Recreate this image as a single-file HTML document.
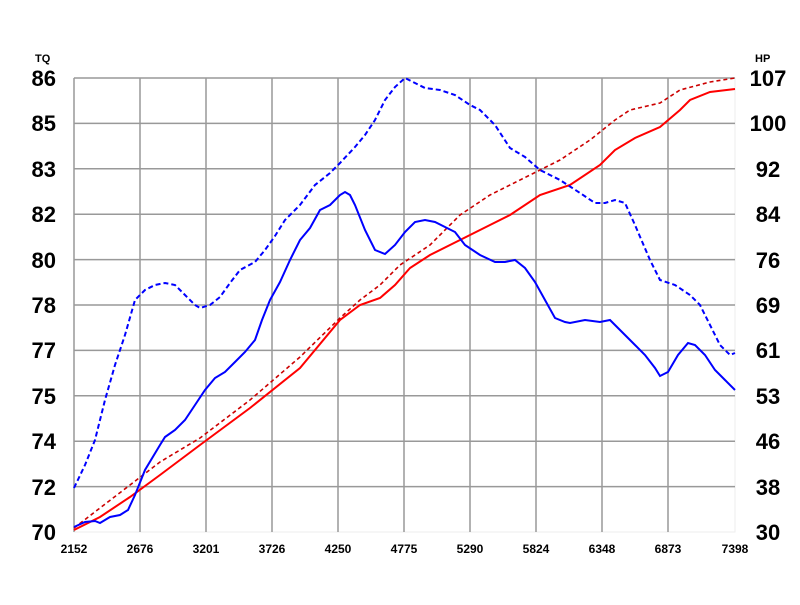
<!DOCTYPE html>
<html><head><style>body{margin:0;background:#fff}svg text{font-family:"Liberation Sans",Arial,sans-serif;font-weight:bold;fill:#000}</style></head><body>
<svg width="800" height="600" viewBox="0 0 800 600" xmlns="http://www.w3.org/2000/svg">
<rect x="74" y="78" width="661" height="454" fill="#fff" stroke="#eee"/>
<g stroke="#999" stroke-width="1.5">
<line x1="74" y1="78" x2="735" y2="78"/><line x1="74" y1="123.4" x2="735" y2="123.4"/><line x1="74" y1="168.8" x2="735" y2="168.8"/><line x1="74" y1="214.2" x2="735" y2="214.2"/><line x1="74" y1="259.6" x2="735" y2="259.6"/><line x1="74" y1="305" x2="735" y2="305"/><line x1="74" y1="350.4" x2="735" y2="350.4"/><line x1="74" y1="395.8" x2="735" y2="395.8"/><line x1="74" y1="441.2" x2="735" y2="441.2"/><line x1="74" y1="486.6" x2="735" y2="486.6"/>
<line x1="74" y1="78" x2="74" y2="532"/><line x1="140" y1="78" x2="140" y2="532"/><line x1="206" y1="78" x2="206" y2="532"/><line x1="272" y1="78" x2="272" y2="532"/><line x1="338" y1="78" x2="338" y2="532"/><line x1="404" y1="78" x2="404" y2="532"/><line x1="470" y1="78" x2="470" y2="532"/><line x1="536" y1="78" x2="536" y2="532"/><line x1="602" y1="78" x2="602" y2="532"/><line x1="668" y1="78" x2="668" y2="532"/>
</g>
<g fill="none" stroke-width="2">
<polyline stroke="#f00" points="74,530 100,517 130,497 160,475 200,445 250,408 300,368 340,320 360,305 380,298 395,285 410,268 430,255 460,240 490,225 510,215 540,195 570,185 600,165 615,150 635,138 660,127 680,110 690,100 710,92 735,89"/>
<polyline stroke="#c00" stroke-dasharray="4,3" stroke-width="1.6" points="74,528 100,508 130,485 160,462 200,438 250,400 300,357 340,318 360,300 380,285 400,265 430,245 460,215 490,195 530,175 560,160 590,140 615,120 630,110 660,103 680,90 710,82 735,78"/>
<polyline stroke="#00f" points="74,527 85,522 95,521 100,523 110,517 120,515 128,510 135,495 145,470 160,445 165,437 175,430 185,420 195,405 205,390 215,378 225,372 235,362 245,352 255,340 262,320 270,300 280,282 290,260 300,240 310,228 320,210 330,205 340,195 345,192 350,195 355,205 365,230 375,250 385,254 395,245 405,232 415,222 425,220 435,222 445,227 455,232 465,245 480,255 495,262 505,262 515,260 525,268 535,282 545,300 555,318 565,322 570,323 585,320 600,322 610,320 620,330 635,345 645,355 655,368 660,376 668,372 678,355 688,343 695,345 705,355 715,370 725,380 735,390"/>
<polyline stroke="#00f" stroke-dasharray="5,3" points="74,488 85,465 95,440 105,400 115,365 125,335 135,300 145,290 155,285 165,283 175,285 185,295 195,305 200,308 210,305 220,297 230,283 240,270 255,262 265,250 275,236 285,220 300,205 315,185 330,173 340,163 355,147 365,135 375,120 385,100 395,87 405,78 415,83 425,88 440,90 455,95 470,105 480,110 495,125 510,148 525,157 540,170 560,180 580,193 595,203 605,203 615,200 625,203 635,225 650,260 660,280 675,285 690,295 700,305 710,325 720,345 730,355 735,353"/>
</g>
<text x="35" y="62" font-size="11">TQ</text>
<text x="755" y="62" font-size="11">HP</text>
<g font-size="22" text-anchor="end">
<text x="56" y="86">86</text><text x="56" y="131">85</text><text x="56" y="177">83</text><text x="56" y="222">82</text><text x="56" y="268">80</text><text x="56" y="313">78</text><text x="56" y="358">77</text><text x="56" y="404">75</text><text x="56" y="449">74</text><text x="56" y="495">72</text><text x="56" y="540">70</text>
</g>
<g font-size="22" text-anchor="middle">
<text x="768" y="86">107</text><text x="768" y="131">100</text><text x="768" y="177">92</text><text x="768" y="222">84</text><text x="768" y="268">76</text><text x="768" y="313">69</text><text x="768" y="358">61</text><text x="768" y="404">53</text><text x="768" y="449">46</text><text x="768" y="495">38</text><text x="768" y="540">30</text>
</g>
<g font-size="12" text-anchor="middle">
<text x="74" y="553">2152</text><text x="140" y="553">2676</text><text x="206" y="553">3201</text><text x="272" y="553">3726</text><text x="338" y="553">4250</text><text x="404" y="553">4775</text><text x="470" y="553">5290</text><text x="536" y="553">5824</text><text x="602" y="553">6348</text><text x="668" y="553">6873</text><text x="735" y="553">7398</text>
</g>
</svg>
</body></html>
